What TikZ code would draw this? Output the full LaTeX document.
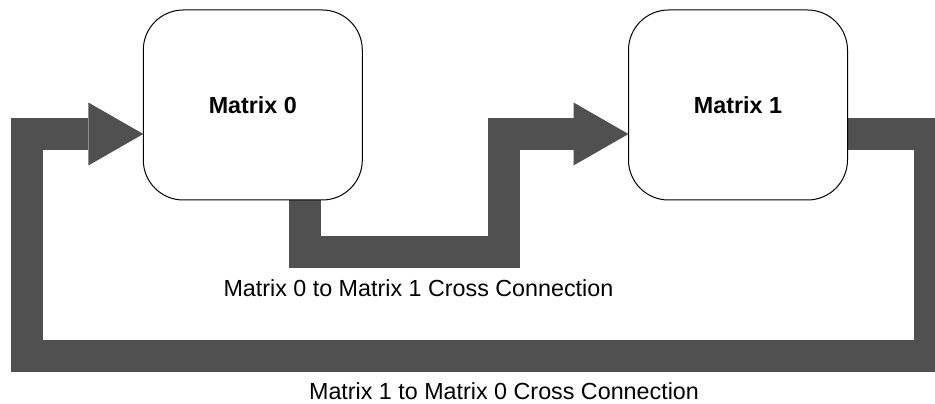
\documentclass[tikz,border=0pt]{standalone}
\usepackage{fontspec}
\setmainfont{Liberation Sans}
\usepackage{tikz}
\usetikzlibrary{backgrounds}

\begin{document}
\begin{tikzpicture}[x=1pt, y=1pt,
		matrix_style/.style={draw=black,fill=white,line width=1pt,rounded corners=40pt,
			minimum width=219pt,minimum height=190pt,inner sep=0pt,outer sep=0pt,
			font=\fontsize{23.3}{28}\selectfont\bfseries},
		link_style/.style={draw=linkgray,line width=32pt,shorten >=55pt},
		label_style/.style={anchor=base,inner sep=0pt,font=\fontsize{23.3}{28}\selectfont}]
		\definecolor{linkgray}{RGB}{80,80,80}
		\useasboundingbox (0,0) rectangle (935,404);
		
		\node[matrix_style] (m0) at (252.8,299) {Matrix 0};
		\node[matrix_style] (m1) at (738,299) {Matrix 1};
		
		\coordinate (m0in) at ([yshift=-29pt]m0.west);
		\coordinate (m0out) at ([xshift=52pt]m0.south);
		\coordinate (m1in) at ([yshift=-29pt]m1.west);
		\coordinate (m1out) at ([yshift=-29pt]m1.east);
		
		\begin{scope}[on background layer]
		\draw[link_style] (m0out) |- (504,152) |- (m1in);
		\draw[link_style] (m1out) -| (930,48) -| (27,270) -- (m0in);
		\fill[linkgray] (m1in) -- ++(-55,31.5) -- ++(0,-63) -- cycle;
		\fill[linkgray] (m0in) -- ++(-55,31.5) -- ++(0,-63) -- cycle;
		\end{scope}
		
		\node[label_style] (l01) at (418.4,107.3) {Matrix 0 to Matrix 1 Cross Connection};
		\node[label_style] (l10) at (504,4.5) {Matrix 1 to Matrix 0 Cross Connection};
		
\end{tikzpicture}
\end{document}
